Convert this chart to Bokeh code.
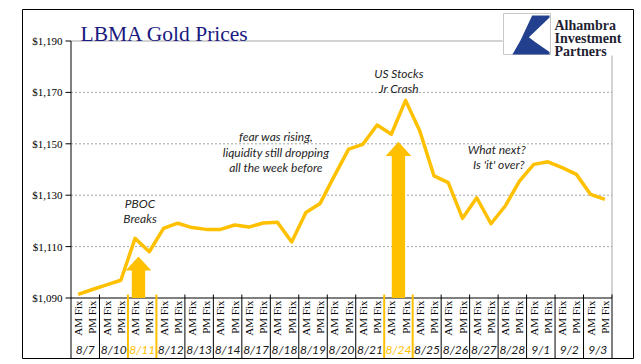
import math
from bokeh.plotting import figure
from bokeh.models import Range1d
from bokeh.core.properties import value
from bokeh.embed import file_html
from bokeh.resources import INLINE

# ---------------- data ----------------
days = ["8/7", "8/10", "8/11", "8/12", "8/13", "8/14", "8/17", "8/18", "8/19", "8/20",
        "8/21", "8/24", "8/25", "8/26", "8/27", "8/28", "9/1", "9/2", "9/3"]
fixes = ["AM Fix", "PM Fix"]
prices = [1091.4, 1093.3, 1095.1, 1096.9, 1113.2, 1108.0, 1117.1, 1119.1, 1117.4, 1116.7,
          1116.7, 1118.4, 1117.6, 1119.2, 1119.5, 1111.8, 1123.3, 1126.8, 1137.5, 1147.9,
          1149.8, 1157.3, 1153.7, 1166.9, 1155.0, 1137.5, 1134.9, 1121.0, 1129.0, 1118.9,
          1125.8, 1135.5, 1142.0, 1143.0, 1140.7, 1138.1, 1130.3, 1128.4]
highlight_days = ["8/11", "8/24"]
y_ticks = [1090, 1110, 1130, 1150, 1170, 1190]
y_tick_labels = ["$1,090", "$1,110", "$1,130", "$1,150", "$1,170", "$1,190"]

arrow_x = [4.74, 23.0]
arrow_neck = [1100.7, 1145.3]
arrow_tip = [1106.1, 1150.8]

note_text = ["PBOC", "Breaks", "fear was rising,", "liquidity still dropping", "all the week before",
             "US Stocks", "Jr Crash", "What next?", "Is 'it' over?"]
note_x = [4.85, 4.85, 14.4, 14.4, 14.4, 23.03, 23.03, 29.9, 30.05]
note_y = [1126.6, 1121.0, 1152.8, 1146.5, 1140.7, 1177.4, 1171.5, 1147.6, 1141.8]

# ---------------- layout helpers (page pixels -> data space) ----------------
GOLD = "#FFC000"
GRID = "#A6A6A6"
N = len(prices)
Y0, Y1 = y_ticks[0], y_ticks[-1]
PXX = 541 / N          # plot area 70..611 px
PXY = 257 / (Y1 - Y0)  # plot area 40..297 px
W, H = 641, 364
FL, FT, FR, FB = 22, 9, 633, 358   # frame = chart border box (page px)
def dx(px):
    return (px - 70.5) / PXX
def dy(py):
    return Y0 + (297.5 - py) / PXY

p = figure(width=W, height=H,
           x_range=Range1d(dx(FL), dx(FR)), y_range=Range1d(dy(FB), dy(FT)),
           x_axis_type=None, y_axis_type=None,
           output_backend="svg", toolbar_location=None,
           min_border_left=FL, min_border_right=W - FR, min_border_top=FT, min_border_bottom=H - FB)
p.outline_line_color = "black"
p.outline_line_width = 1
p.grid.visible = False

# grid lines
p.segment(x0=[0] * 4, y0=y_ticks[1:-1], x1=[N] * 4, y1=y_ticks[1:-1],
          line_color=GRID, line_width=1, line_dash="2 2")
p.segment(x0=[0, N], y0=[Y1, Y0], x1=[N, N], y1=[Y1, Y1], line_color=GRID, line_width=1)

# value axis
p.segment(x0=[0], y0=[dy(357.5)], x1=[0], y1=[Y1], line_color="black", line_width=1)
p.segment(x0=[dx(65)] * len(y_ticks), y0=y_ticks, x1=[0] * len(y_ticks), y1=y_ticks,
          line_color="black", line_width=1)
p.text(x=[dx(62)] * len(y_ticks), y=y_ticks, text=y_tick_labels, text_align="right",
       text_baseline="middle", text_font=value("Liberation Serif"), text_font_size="11px",
       text_color="black")

# category axis: baseline, separators, labels
p.segment(x0=[0], y0=[Y0], x1=[N], y1=[Y0], line_color="black", line_width=1)
hi_idx = [days.index(d) for d in highlight_days]
gold_seps = set([2 * i for i in hi_idx] + [2 * i + 2 for i in hi_idx])
sep_x = [2 * k for k in range(1, len(days) + 1)]
p.segment(x0=sep_x, y0=[dy(294)] * len(sep_x), x1=sep_x, y1=[dy(357.5)] * len(sep_x),
          line_color=[GOLD if s in gold_seps else "black" for s in sep_x],
          line_width=[2 if s in gold_seps else 1 for s in sep_x])
p.text(x=[i + 0.5 for i in range(N)], y=[dy(300)] * N, text=[fixes[i % 2] for i in range(N)],
       angle=math.pi / 2, text_align="right", text_baseline="middle",
       text_font=value("Liberation Serif"), text_font_size="11px", text_color="black")
p.text(x=[2 * k + 1 for k in range(len(days))], y=[dy(348.5)] * len(days), text=days,
       text_color=[GOLD if d in highlight_days else "#1a1a1a" for d in days],
       text_align="center", text_baseline="middle", text_font=value("Lato"),
       text_font_style="italic", text_font_size="12px")

# price line
p.line(x=[i + 0.5 for i in range(N)], y=prices, line_color=GOLD, line_width=3.5, line_join="round")

# block arrows
SH, HH = 0.47, 0.9
axs, ays = [], []
for xc, nk, tp in zip(arrow_x, arrow_neck, arrow_tip):
    axs.append([xc - SH, xc - SH, xc - HH, xc, xc + HH, xc + SH, xc + SH])
    ays.append([Y0, nk, nk, tp, nk, nk, Y0])
p.patches(xs=axs, ys=ays, fill_color=GOLD, line_color=None)

# notes
p.text(x=note_x, y=note_y, text=note_text, text_font=value("Lato"), text_font_style="italic",
       text_font_size="12px", text_color="#262626", text_align="center", text_baseline="middle")

# title
p.text(x=[dx(80)], y=[dy(33)], text=["LBMA Gold Prices"], text_font=value("Liberation Serif"),
       text_font_size="21.5px", text_color="#1A1A80", text_align="left", text_baseline="alphabetic")

# logo
p.quad(left=[dx(502)], right=[dx(631)], top=[dy(11)], bottom=[dy(55)], fill_color="white", line_color=None)
bl, br, bt, bb = 503, 550, 13, 54
p.quad(left=[dx(bl)], right=[dx(br)], top=[dy(bt)], bottom=[dy(bb)], fill_color="white",
       line_color="#C8C8C8", line_width=1)
shape_u = [0.61, 0.98, 0.98, 0.54, 0.68, 0.98, 0.98, 0.19, 0.36]
shape_v = [0.05, 0.05, 0.10, 0.58, 0.70, 0.94, 1.0, 1.0, 0.66]
p.patch(x=[dx(bl + u * (br - bl)) for u in shape_u], y=[dy(bt + v * (bb - bt)) for v in shape_v],
        fill_color="#23408E", line_color=None)
p.text(x=[dx(554)] * 3, y=[dy(25), dy(38), dy(50.5)], text=["Alhambra", "Investment", "Partners"],
       text_font=value("Liberation Serif"), text_font_style="bold", text_font_size="14px",
       text_color="#1F1F33", text_align="left", text_baseline="alphabetic")

open("out.html", "w").write(file_html(p, INLINE))
